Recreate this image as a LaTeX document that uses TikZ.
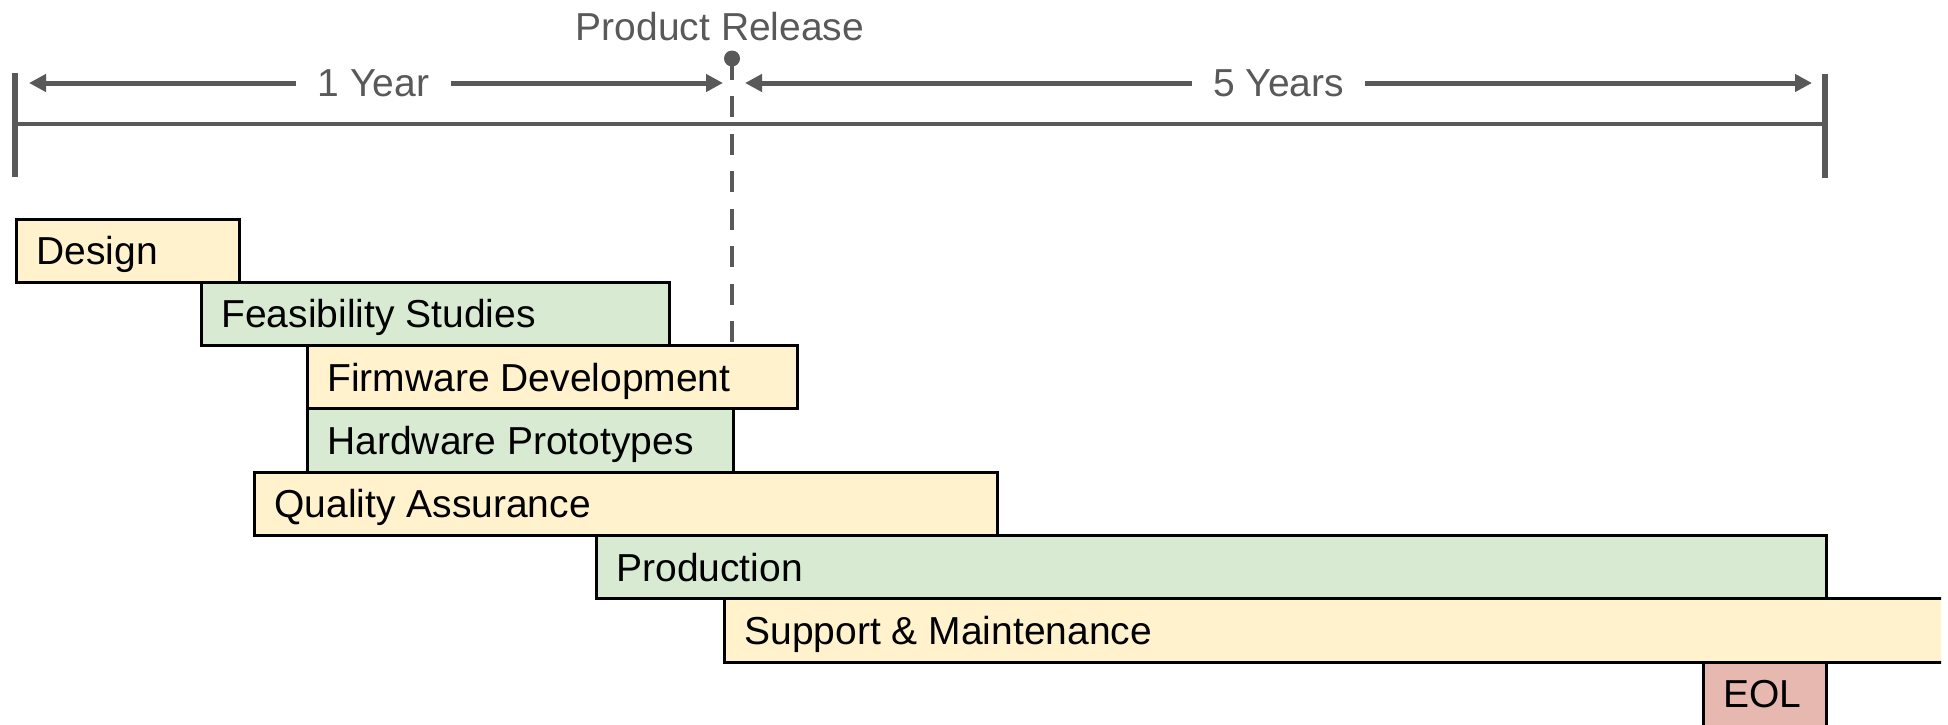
\documentclass[tikz,border=0pt]{standalone}
\usepackage{fontspec}
\setmainfont{Liberation Sans}
\usetikzlibrary{arrows.meta}
\definecolor{linegray}{HTML}{595959}
\definecolor{phaseyellow}{HTML}{FFF2CC}
\definecolor{phasegreen}{HTML}{D9EAD3}
\definecolor{phasered}{HTML}{E6B8AF}
\newcommand\phasefont{\fontsize{19.5}{23}\selectfont}
\tikzset{
	phasebox/.style={draw=black, line width=1.5pt, inner sep=0pt, anchor=north west, minimum height=31.65pt},
	phaselabel/.style={anchor=base west, inner sep=0pt, text=black, font=\phasefont},
	spanlabel/.style={text=linegray, font=\phasefont, inner xsep=10.5pt, inner ysep=0pt},
	spanarrow/.style={draw=linegray, line width=2.5pt, -{Triangle[length=8.5pt,width=8.5pt]}},
	yeartick/.style={draw=linegray, line width=3pt},
}
% name, left, right, row, fill, text
\newcommand\phasebar[6]{%
	\node[phasebox, fill=#5, minimum width={(#3-#2)*0.5pt}] (#1) at (#2,{217.5+63.3*#4}) {};
	\node[phaselabel] (#1text) at ({#2+21},{264.5+63.3*#4}) {#6};}

\begin{document}
\begin{tikzpicture}[x=0.5pt, y=-0.5pt]
			%%%%% START %%%%%
			\useasboundingbox (0,0) rectangle (1948,724);
			
			% time axis
			\draw[yeartick] (15,73) -- (15,177);
			\draw[yeartick] (1825,74) -- (1825,178);
			\draw[linegray, line width=2pt] (15,124) -- (1825,124);
			
			\node[spanlabel] (oneyear) at (373.5,83) {1 Year};
			\coordinate (oneyearleft) at (29,83);
			\coordinate (oneyearright) at (723,83);
			\draw[spanarrow] (oneyear.west) -- (oneyearleft);
			\draw[spanarrow] (oneyear.east) -- (oneyearright);
			
			\node[spanlabel] (fiveyears) at (1278.5,83) {5 Years};
			\coordinate (fiveyearsleft) at (745,83);
			\coordinate (fiveyearsright) at (1812,83);
			\draw[spanarrow] (fiveyears.west) -- (fiveyearsleft);
			\draw[spanarrow] (fiveyears.east) -- (fiveyearsright);
			
			% release marker
			\node[anchor=base, inner sep=0pt, text=linegray, font=\phasefont] (release) at (720,40) {Product Release};
			\node[circle, fill=linegray, inner sep=0pt, minimum size=8pt] (releasedot) at (732,58.5) {};
			\coordinate (releaseend) at (732,342);
			\draw[linegray, line width=2.4pt, dash pattern=on 10.5pt off 8.25pt] (releasedot.center) -- (releaseend);
			
			% phases
			\phasebar{design}{15}{238}{0}{phaseyellow}{Design}
			\phasebar{feasibility}{200}{668}{1}{phasegreen}{Feasibility Studies}
			\phasebar{firmware}{306}{796}{2}{phaseyellow}{Firmware Development}
			\phasebar{hardware}{306}{732}{3}{phasegreen}{Hardware Prototypes}
			\phasebar{quality}{253}{996}{4}{phaseyellow}{Quality Assurance}
			\phasebar{production}{595}{1825}{5}{phasegreen}{Production}
			
			\begin{scope}
				\clip (0,0) rectangle (1941,724);
				\phasebar{support}{723}{1970}{6}{phaseyellow}{Support \& Maintenance}
				\node[phasebox, fill=phasered, minimum width=61.5pt, minimum height=36pt] (eol) at (1702,660.6) {};
				\node[phaselabel] (eoltext) at (1723,707.6) {EOL};
			\end{scope}
			
			%%%%% END %%%%%
\end{tikzpicture}
\end{document}
